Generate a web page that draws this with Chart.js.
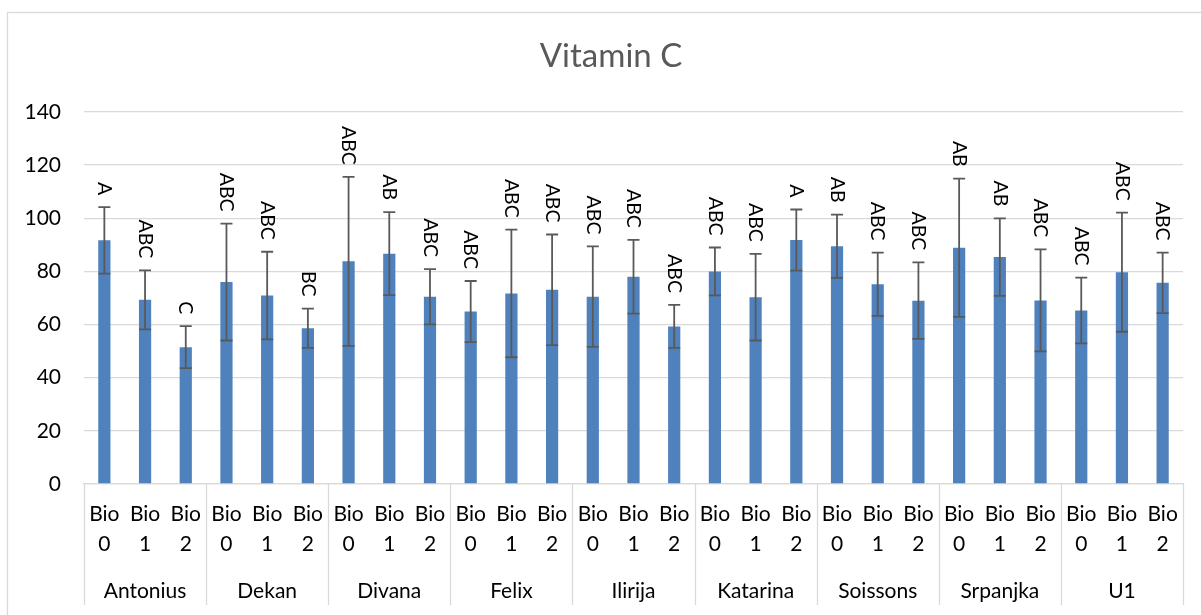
<!DOCTYPE html>
<html>
<head>
<meta charset="utf-8">
<script src="https://cdn.jsdelivr.net/npm/chart.js@4.4.1/dist/chart.umd.min.js"></script>
<style>
  html, body { margin: 0; padding: 0; background: #fff; }
</style>
</head>
<body>
<canvas id="chart" width="1201" height="615"></canvas>
<script>
// cultivars (outer category) and treatments (inner category)
const cultivars = ["Antonius", "Dekan", "Divana", "Felix", "Ilirija", "Katarina", "Soissons", "Srpanjka", "U1"];
const treatments = [["Bio", "0"], ["Bio", "1"], ["Bio", "2"]];

// vitamin C means, one per cultivar x treatment
const means = [
  91.7, 69.3, 51.5,
  76.0, 70.9, 58.6,
  83.8, 86.7, 70.5,
  64.9, 71.7, 73.1,
  70.5, 78.0, 59.3,
  80.0, 70.3, 91.8,
  89.5, 75.2, 69.0,
  88.9, 85.4, 69.1,
  65.3, 79.7, 75.7
];
// error bar half-length
const errors = [
  12.5, 11.1, 7.9,
  22.0, 16.5, 7.4,
  31.8, 15.6, 10.4,
  11.5, 24.0, 20.8,
  18.9, 13.9, 8.1,
  9.0, 16.3, 11.5,
  11.9, 11.9, 14.4,
  26.0, 14.6, 19.2,
  12.4, 22.4, 11.4
];
// significance letters
const letters = [
  "A", "ABC", "C",
  "ABC", "ABC", "BC",
  "ABC", "AB", "ABC",
  "ABC", "ABC", "ABC",
  "ABC", "ABC", "ABC",
  "ABC", "ABC", "A",
  "AB", "ABC", "ABC",
  "AB", "AB", "ABC",
  "ABC", "ABC", "ABC"
];
const yTicks = [0, 20, 40, 60, 80, 100, 120, 140];

const labels = [];
cultivars.forEach(() => treatments.forEach(t => labels.push(t)));

const FONT = "Lato, 'Open Sans', sans-serif";
const GRID = "#d9d9d9";

const framePlugin = {
  id: "frame",
  beforeDraw(chart) {
    const ctx = chart.ctx;
    ctx.save();
    ctx.fillStyle = "#fff";
    ctx.fillRect(0, 0, chart.width, chart.height);
    ctx.strokeStyle = GRID;
    ctx.lineWidth = 1.3;
    ctx.strokeRect(7.5, 12.5, chart.width + 10, chart.height + 10);
    ctx.fillStyle = "#595959";
    ctx.font = "33px " + FONT;
    ctx.textAlign = "center";
    ctx.textBaseline = "middle";
    ctx.fillText("Vitamin C", 611, 56);
    ctx.restore();
  }
};

const errorPlugin = {
  id: "errorBars",
  afterDatasetsDraw(chart) {
    const ctx = chart.ctx;
    const x = chart.scales.x, y = chart.scales.y;
    ctx.save();
    means.forEach((m, i) => {
      const px = x.getPixelForValue(i);
      const top = y.getPixelForValue(m + errors[i]);
      const bot = y.getPixelForValue(m - errors[i]);
      ctx.strokeStyle = "#595959";
      ctx.lineWidth = 1.8;
      ctx.beginPath();
      ctx.moveTo(px, top); ctx.lineTo(px, bot);
      ctx.moveTo(px - 6, top); ctx.lineTo(px + 6, top);
      ctx.moveTo(px - 6, bot); ctx.lineTo(px + 6, bot);
      ctx.stroke();

      ctx.save();
      ctx.translate(px, top - 12);
      ctx.rotate(Math.PI / 2);
      ctx.fillStyle = "#000";
      ctx.font = "19.5px " + FONT;
      ctx.textAlign = "right";
      ctx.textBaseline = "middle";
      ctx.fillText(letters[i], 0, 0);
      ctx.restore();
    });
    ctx.restore();
  }
};

const groupPlugin = {
  id: "groups",
  afterDraw(chart) {
    const ctx = chart.ctx;
    const x = chart.scales.x;
    const area = chart.chartArea;
    const n = treatments.length;
    ctx.save();
    ctx.strokeStyle = GRID;
    ctx.lineWidth = 1.3;
    ctx.fillStyle = "#000";
    ctx.font = "21px " + FONT;
    ctx.textAlign = "center";
    ctx.textBaseline = "middle";
    const edges = [area.left];
    for (let g = 1; g < cultivars.length; g++) {
      edges.push((x.getPixelForValue(g * n - 1) + x.getPixelForValue(g * n)) / 2);
    }
    edges.push(area.right);
    edges.forEach(ex => {
      ctx.beginPath();
      ctx.moveTo(Math.round(ex) + 0.5, area.bottom);
      ctx.lineTo(Math.round(ex) + 0.5, 605);
      ctx.stroke();
    });
    cultivars.forEach((c, g) => {
      ctx.fillText(c, (edges[g] + edges[g + 1]) / 2, 591);
    });
    ctx.restore();
  }
};

new Chart(document.getElementById("chart"), {
  type: "bar",
  data: {
    labels: labels,
    datasets: [{
      label: "Vitamin C",
      data: means,
      backgroundColor: "#4f81bd",
      borderWidth: 0,
      barPercentage: 0.3,
      categoryPercentage: 1.0
    }]
  },
  options: {
    responsive: false,
    devicePixelRatio: 1,
    animation: false,
    layout: { padding: { top: 112, right: 18, left: 0, bottom: 0 } },
    plugins: {
      legend: { display: false },
      title: { display: false },
      tooltip: { enabled: false }
    },
    scales: {
      x: {
        grid: { display: false, drawTicks: false },
        border: { display: true, color: GRID, width: 1.3 },
        ticks: {
          autoSkip: false,
          maxRotation: 0,
          minRotation: 0,
          padding: 15,
          color: "#000",
          font: { family: FONT, size: 21, lineHeight: 1.45 }
        },
        afterFit(scale) { scale.height = 131; }
      },
      y: {
        min: 0,
        max: 140,
        afterBuildTicks(scale) { scale.ticks = yTicks.map(v => ({ value: v })); },
        grid: { color: GRID, lineWidth: 1.3, drawTicks: false },
        border: { display: false },
        ticks: {
          padding: 23,
          color: "#000",
          font: { family: FONT, size: 21 }
        },
        afterFit(scale) { scale.width = 84; }
      }
    }
  },
  plugins: [framePlugin, errorPlugin, groupPlugin]
});
</script>
</body>
</html>
